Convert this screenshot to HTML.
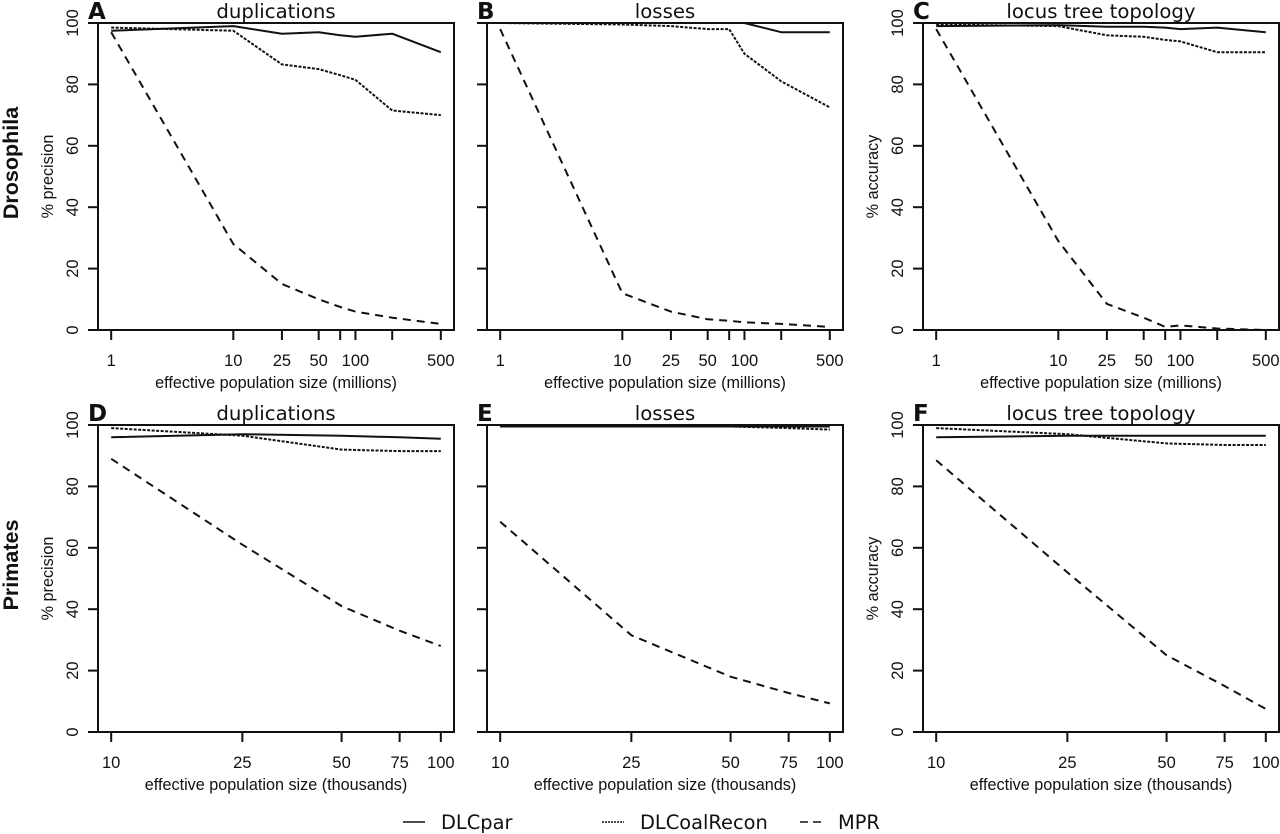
<!DOCTYPE html>
<html><head><meta charset="utf-8"><style>
html,body{margin:0;padding:0;background:#fff;}
svg{display:block;}
</style></head><body>
<svg id="fig" width="1280" height="834" viewBox="0 0 1280 834" xmlns="http://www.w3.org/2000/svg"></svg>
<script>
// Drosophila x values (millions) and primates x values (thousands)
const droX = [1, 10, 25, 50, 75, 100, 200, 500];
const droTicks = [1, 10, 25, 50, 75, 100, 200, 500];
const droTickLabels = ["1", "10", "25", "50", "", "100", "", "500"];
const priX = [10, 25, 50, 75, 100];
const priTickLabels = ["10", "25", "50", "75", "100"];
const yTicks = [0, 20, 40, 60, 80, 100];

const aDLCpar = [97.5, 99, 96.5, 97, 96, 95.5, 96.5, 90.5];
const aDLCoal = [98.5, 97.5, 86.5, 85, 83, 81.5, 71.5, 70];
const aMPR = [97, 28, 15, 10, 7.5, 6, 4, 2];
const bDLCpar = [100, 100, 100, 100, 100, 100, 97, 97];
const bDLCoal = [100, 99.5, 99, 98, 98, 90, 81, 72.5];
const bMPR = [98, 12, 6, 3.5, 3, 2.5, 2, 1];
const cDLCpar = [99, 99.3, 98.8, 98.8, 98.5, 98, 98.5, 97];
const cDLCoal = [99.5, 99, 96, 95.5, 94.5, 94, 90.5, 90.5];
const cMPR = [98, 29, 8.5, 4, 1, 1.5, 0.5, 0];
const dDLCpar = [96, 97, 96.5, 96, 95.5];
const dDLCoal = [99, 96.5, 92, 91.5, 91.5];
const dMPR = [89, 61, 41, 33, 28];
const eDLCpar = [99.5, 99.5, 99.5, 99.5, 99.5];
const eDLCoal = [99.5, 99.5, 99.5, 99, 98.5];
const eMPR = [68.5, 31.5, 18, 12.7, 9.3];
const fDLCpar = [96, 96.5, 96.5, 96.5, 96.5];
const fDLCoal = [99, 97, 94, 93.5, 93.5];
const fMPR = [88.5, 52, 25, 15, 7.5];

const NS = "http://www.w3.org/2000/svg";
const svg = document.getElementById('fig');
function mk(tag, attrs, parent){const e=document.createElementNS(NS,tag);for(const k in attrs)e.setAttribute(k,attrs[k]);(parent||svg).appendChild(e);return e;}

const panels = [
 {id:'a',letter:'A',title:'duplications',left:98,top:23,bottom:330,xs:droX,ticks:droTicks,tl:droTickLabels,yl:'% precision',xl:'effective population size (millions)',s:[aDLCpar,aDLCoal,aMPR]},
 {id:'b',letter:'B',title:'losses',left:487,top:23,bottom:330,xs:droX,ticks:droTicks,tl:droTickLabels,yl:null,xl:'effective population size (millions)',s:[bDLCpar,bDLCoal,bMPR]},
 {id:'c',letter:'C',title:'locus tree topology',left:923,top:23,bottom:330,xs:droX,ticks:droTicks,tl:droTickLabels,yl:'% accuracy',xl:'effective population size (millions)',s:[cDLCpar,cDLCoal,cMPR]},
 {id:'d',letter:'D',title:'duplications',left:98,top:425,bottom:732,xs:priX,ticks:priX,tl:priTickLabels,yl:'% precision',xl:'effective population size (thousands)',s:[dDLCpar,dDLCoal,dMPR]},
 {id:'e',letter:'E',title:'losses',left:487,top:425,bottom:732,xs:priX,ticks:priX,tl:priTickLabels,yl:null,xl:'effective population size (thousands)',s:[eDLCpar,eDLCoal,eMPR]},
 {id:'f',letter:'F',title:'locus tree topology',left:923,top:425,bottom:732,xs:priX,ticks:priX,tl:priTickLabels,yl:'% accuracy',xl:'effective population size (thousands)',s:[fDLCpar,fDLCoal,fMPR]},
];
const seriesStyle = [
 {name:'dlcpar', dash:null, w:2},
 {name:'dlcoalrecon', dash:'3,1.5', w:2},
 {name:'mpr', dash:'8,6', w:2},
];
const W = 356;
panels.forEach(p=>{
  const g = mk('g',{});
  
  
  const lmin=Math.log10(p.xs[0]), lmax=Math.log10(p.xs[p.xs.length-1]);
  const pad=(lmax-lmin)*0.04;
  const x=v=>p.left+(Math.log10(v)-(lmin-pad))/((lmax+pad)-(lmin-pad))*W;
  const y=v=>p.bottom-(v/100)*(p.bottom-p.top);
  const box=mk('rect',{x:p.left,y:p.top,width:W,height:p.bottom-p.top,fill:'none',stroke:'#111','stroke-width':2},g);
  
  
  yTicks.forEach(t=>{
    const l=mk('line',{x1:p.left-10,x2:p.left,y1:y(t),y2:y(t),stroke:'#111','stroke-width':2},g);
    
    
    if(p.yl){
      const tx=mk('text',{x:0,y:0,transform:`translate(${p.left-20},${y(t)}) rotate(-90)`,'text-anchor':'middle','font-family':'Liberation Sans, sans-serif','font-size':16.5,fill:'#111'},g);
      tx.textContent=t;
      
      
    }
  });
  p.ticks.forEach((t,i)=>{
    const l=mk('line',{x1:x(t),x2:x(t),y1:p.bottom,y2:p.bottom+10,stroke:'#111','stroke-width':2},g);
    
    
    if(p.tl[i]){
      const tx=mk('text',{x:x(t),y:p.bottom+36,'text-anchor':'middle','font-family':'Liberation Sans, sans-serif','font-size':16.5,fill:'#111'},g);
      tx.textContent=p.tl[i];
      
      
    }
  });
  const xl=mk('text',{x:p.left+W/2,y:p.bottom+58,'text-anchor':'middle','font-family':'Liberation Sans, sans-serif','font-size':16.2,fill:'#111'},g);
  xl.textContent=p.xl;
  
  
  if(p.yl){
    const yl=mk('text',{x:0,y:0,transform:`translate(${p.left-45},${(p.top+p.bottom)/2}) rotate(-90)`,'text-anchor':'middle','font-family':'Liberation Sans, sans-serif','font-size':16.2,fill:'#111'},g);
    yl.textContent=p.yl;
    
    
  }
  const ti=mk('text',{x:p.left+W/2,y:p.top-5,'text-anchor':'middle','font-family':'DejaVu Sans, sans-serif','font-size':19.7,fill:'#111'},g);
  ti.textContent=p.title;
  
  
  const le=mk('text',{x:p.left-10,y:p.top-4,'font-family':'DejaVu Sans, sans-serif','font-weight':'bold','font-size':23,fill:'#111'},g);
  le.textContent=p.letter;
  
  
  p.s.forEach((vals,si)=>{
    const st=seriesStyle[si];
    const pts=vals.map((v,i)=>x(p.xs[i]).toFixed(1)+','+y(v).toFixed(1)).join(' ');
    const a={points:pts,fill:'none',stroke:'#111','stroke-width':st.w,'stroke-linejoin':'round'};
    if(st.dash)a['stroke-dasharray']=st.dash;
    const pl=mk('polyline',a,g);
    
    
  });
});
[['Drosophila',163,'row-label-drosophila'],['Primates',565,'row-label-primates']].forEach(r=>{
  const t=mk('text',{x:0,y:0,transform:`translate(18,${r[1]}) rotate(-90)`,'text-anchor':'middle','font-family':'Liberation Sans, sans-serif','font-weight':'bold','font-size':21.5,fill:'#111'});
  t.textContent=r[0];
  
  
});
const leg=mk('g',{});


[['DLCpar',403,null,'legend-entry-dlcpar'],['DLCoalRecon',602,'2,1','legend-entry-dlcoalrecon'],['MPR',800,'8,5','legend-entry-mpr']].forEach(e=>{
  const gg=mk('g',{},leg);
  
  
  const a={x1:e[1],x2:e[1]+22,y1:822,y2:822,stroke:'#111','stroke-width':1.5};
  if(e[2])a['stroke-dasharray']=e[2];
  mk('line',a,gg);
  const t=mk('text',{x:e[1]+38,y:829,'font-family':'DejaVu Sans, sans-serif','font-size':19.4,fill:'#111'},gg);
  t.textContent=e[0];
});
</script>
</body></html>
